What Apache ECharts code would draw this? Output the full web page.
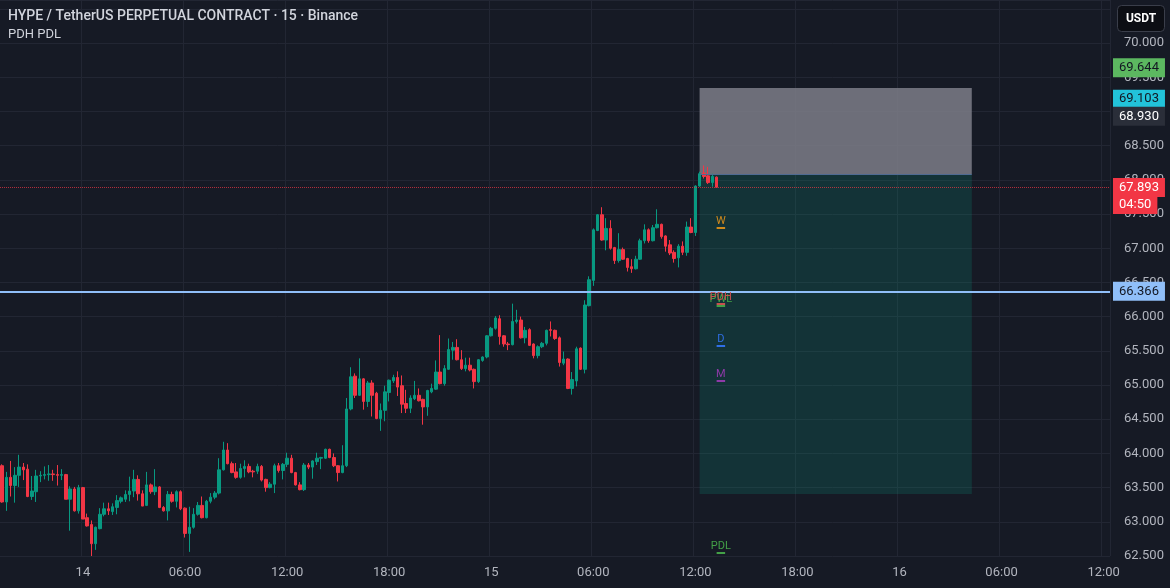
<!DOCTYPE html>
<html>
<head>
<meta charset="utf-8">
<script src="https://cdn.jsdelivr.net/npm/echarts@6/dist/echarts.min.js"></script>
<style>
  html, body { margin: 0; padding: 0; background: #161a25; }
  #chart { width: 1170px; height: 588px; }
</style>
</head>
<body>
<div id="chart"></div>
<script>
  // 15m candles as [open, close, low, high]
  var day13 = [
    [63.82, 63.29, 63.28, 63.84], [63.29, 63.65, 63.16, 63.73], [63.65, 63.53, 63.37, 63.89], [63.53, 63.68, 63.28, 63.80],
    [63.68, 63.80, 63.51, 63.98], [63.80, 63.76, 63.61, 63.86], [63.77, 63.37, 63.36, 63.84], [63.37, 63.45, 63.32, 63.67],
    [63.44, 63.67, 63.29, 63.76], [63.67, 63.68, 63.58, 63.74], [63.68, 63.69, 63.62, 63.81], [63.69, 63.70, 63.60, 63.83],
    [63.70, 63.69, 63.60, 63.76], [63.69, 63.68, 63.53, 63.83], [63.68, 63.69, 63.61, 63.77], [63.69, 63.33, 63.33, 63.70],
    [63.33, 63.48, 62.87, 63.52], [63.48, 63.16, 63.15, 63.51], [63.16, 63.50, 63.12, 63.54]
  ];
  var day14 = [
    [63.50, 63.04, 63.04, 63.51], [63.06, 62.94, 62.93, 63.12], [62.96, 62.68, 62.50, 63.02], [62.68, 62.92, 62.59, 62.93],
    [62.90, 63.11, 62.89, 63.20], [63.11, 63.19, 63.08, 63.28], [63.19, 63.16, 63.10, 63.28], [63.15, 63.22, 63.10, 63.27],
    [63.21, 63.31, 63.11, 63.39], [63.30, 63.35, 63.27, 63.37], [63.33, 63.40, 63.29, 63.46], [63.40, 63.45, 63.30, 63.66],
    [63.45, 63.62, 63.36, 63.76], [63.62, 63.41, 63.31, 63.68], [63.41, 63.23, 63.23, 63.46], [63.24, 63.54, 63.23, 63.73],
    [63.54, 63.44, 63.41, 63.56], [63.44, 63.51, 63.39, 63.77], [63.51, 63.21, 63.20, 63.52], [63.21, 63.16, 63.15, 63.23],
    [63.16, 63.40, 63.02, 63.45], [63.40, 63.30, 63.28, 63.44], [63.30, 63.44, 63.21, 63.46], [63.44, 63.19, 63.17, 63.46],
    [63.20, 62.83, 62.77, 63.21], [62.83, 62.92, 62.56, 63.22], [62.92, 63.11, 62.90, 63.20], [63.11, 63.24, 63.09, 63.29],
    [63.24, 63.06, 63.05, 63.37], [63.06, 63.30, 63.05, 63.32], [63.30, 63.36, 63.27, 63.42], [63.36, 63.42, 63.33, 63.45],
    [63.42, 63.76, 63.40, 63.93], [63.76, 64.05, 63.75, 64.17], [64.05, 63.85, 63.84, 64.15], [63.85, 63.72, 63.71, 63.88],
    [63.73, 63.65, 63.63, 63.86], [63.65, 63.78, 63.63, 63.85], [63.78, 63.81, 63.65, 63.90], [63.81, 63.73, 63.71, 63.85],
    [63.74, 63.73, 63.65, 63.76], [63.74, 63.81, 63.70, 63.85], [63.81, 63.61, 63.59, 63.83], [63.62, 63.50, 63.44, 63.63],
    [63.50, 63.55, 63.49, 63.58], [63.55, 63.82, 63.42, 63.85], [63.82, 63.75, 63.72, 63.86], [63.75, 63.84, 63.62, 63.86],
    [63.84, 63.93, 63.80, 64.01], [63.93, 63.72, 63.71, 63.98], [63.72, 63.54, 63.53, 63.73], [63.54, 63.47, 63.46, 63.58],
    [63.47, 63.83, 63.45, 63.86], [63.83, 63.80, 63.77, 63.86], [63.80, 63.89, 63.63, 63.90], [63.88, 63.93, 63.83, 64.01],
    [63.93, 63.94, 63.77, 63.95], [63.93, 64.06, 63.92, 64.07], [64.06, 63.94, 63.93, 64.07], [63.94, 63.82, 63.80, 64.00],
    [63.82, 63.72, 63.59, 63.83], [63.72, 63.82, 63.71, 64.12], [63.82, 64.65, 63.80, 64.81], [64.65, 65.12, 64.63, 65.26],
    [65.13, 64.85, 64.81, 65.17], [64.85, 65.09, 64.84, 65.39], [65.09, 64.76, 64.64, 65.10], [64.76, 65.03, 64.68, 65.06],
    [65.03, 64.85, 64.54, 65.07], [64.88, 64.51, 64.50, 64.90], [64.51, 64.63, 64.33, 64.73], [64.63, 64.90, 64.47, 64.99],
    [64.89, 65.07, 64.76, 65.08], [65.06, 65.11, 65.03, 65.15], [65.11, 64.97, 64.84, 65.20], [64.99, 64.72, 64.59, 65.14],
    [64.73, 64.66, 64.59, 64.93], [64.66, 64.81, 64.59, 64.85], [64.80, 64.85, 64.78, 65.06], [64.85, 64.77, 64.76, 64.95],
    [64.79, 64.68, 64.42, 64.80], [64.68, 64.92, 64.55, 64.93], [64.90, 64.95, 64.88, 65.02], [64.94, 65.19, 64.93, 65.36],
    [65.19, 65.02, 65.01, 65.73], [65.02, 65.24, 64.99, 65.29], [65.23, 65.52, 65.22, 65.68], [65.51, 65.55, 65.37, 65.63],
    [65.55, 65.37, 65.36, 65.67], [65.37, 65.24, 65.22, 65.51], [65.24, 65.29, 65.20, 65.40], [65.29, 65.22, 65.20, 65.40],
    [65.23, 65.05, 64.95, 65.24], [65.05, 65.37, 65.03, 65.38], [65.36, 65.41, 65.34, 65.42], [65.41, 65.72, 65.39, 65.73]
  ];
  var day15 = [
    [65.72, 65.83, 65.71, 65.85], [65.83, 65.98, 65.81, 66.01], [65.97, 65.71, 65.59, 66.02], [65.72, 65.60, 65.56, 65.73],
    [65.60, 65.59, 65.51, 65.63], [65.59, 65.93, 65.58, 66.19], [65.93, 65.95, 65.90, 66.10], [65.95, 65.69, 65.68, 66.00],
    [65.69, 65.80, 65.61, 65.85], [65.81, 65.58, 65.57, 65.83], [65.60, 65.43, 65.39, 65.61], [65.43, 65.56, 65.39, 65.58],
    [65.56, 65.61, 65.54, 65.63], [65.61, 65.80, 65.58, 65.81], [65.81, 65.80, 65.71, 65.93], [65.80, 65.68, 65.66, 65.81],
    [65.69, 65.33, 65.27, 65.71], [65.32, 65.38, 65.29, 65.49], [65.38, 64.95, 64.94, 65.39], [64.95, 65.08, 64.86, 65.19],
    [65.06, 65.53, 64.98, 65.56], [65.54, 65.23, 65.22, 65.55], [65.23, 66.17, 65.17, 66.24], [66.16, 66.54, 66.15, 66.59],
    [66.53, 67.27, 66.45, 67.29], [67.26, 67.49, 67.25, 67.50], [67.49, 67.12, 67.11, 67.60], [67.12, 67.29, 66.97, 67.44],
    [67.29, 67.00, 66.98, 67.41], [67.01, 66.82, 66.77, 67.02], [66.82, 66.98, 66.79, 67.22], [66.98, 66.84, 66.83, 67.01],
    [66.85, 66.72, 66.66, 66.86], [66.73, 66.70, 66.64, 66.84], [66.70, 66.84, 66.69, 66.89], [66.84, 67.11, 66.83, 67.14],
    [67.11, 67.27, 67.07, 67.35], [67.27, 67.11, 67.08, 67.29], [67.11, 67.30, 67.10, 67.34], [67.30, 67.35, 67.29, 67.57],
    [67.35, 67.17, 67.14, 67.36], [67.18, 67.03, 66.95, 67.19], [67.05, 66.93, 66.90, 67.12], [66.94, 66.85, 66.79, 66.97],
    [66.86, 67.03, 66.72, 67.06], [67.03, 66.94, 66.90, 67.10], [66.94, 67.31, 66.89, 67.39], [67.31, 67.23, 67.22, 67.44],
    [67.23, 67.91, 67.18, 67.92], [67.91, 68.09, 67.90, 68.12], [68.10, 68.05, 68.02, 68.21], [68.06, 67.96, 67.94, 68.19],
    [67.96, 68.05, 67.90, 68.09], [68.04, 67.893, 67.89, 68.05]
  ];

  var startDay = 13;
  var startMinute = 19 * 60 + 15;
  var slotCount = 261;

  var lastPrice = 67.893;
  var countdown = '04:50';
  var alertPrice = 66.366;
  var tagPrices = [69.644, 69.103, 68.930];

  // position tool: slot range and price bounds
  var posSlots = [164, 228];
  var posTop = 69.342;
  var posEntry = 68.085;
  var posBottom = 63.406;

  // key levels drawn as short marks with a letter
  var levelNames = ['PWL', 'PDH', 'W', 'D', 'M', 'PDL'];
  var levelPrices = [66.16, 66.194, 67.295, 65.57, 65.063, 62.554];
  var levelColors = ['#43a047', '#c9514f', '#d08a1c', '#2f6fe6', '#8e3aa8', '#43a047'];

  var up = '#089981', down = '#f23645';

  var candles = day13.concat(day14, day15);

  function pad(n) { return n < 10 ? '0' + n : '' + n; }
  var categories = [];
  for (var i = 0; i < slotCount; i++) {
    var t = startMinute + i * 15;
    var d = startDay + Math.floor(t / 1440);
    var m = t % 1440;
    categories.push(d + ' ' + pad(Math.floor(m / 60)) + ':' + pad(m % 60));
  }
  function isMajor(idx, val) {
    var hm = val.split(' ')[1];
    return hm === '00:00' || hm === '06:00' || hm === '12:00' || hm === '18:00';
  }

  function tag(price, text, bg, fg) {
    return {
      yAxis: price,
      lineStyle: { color: 'rgba(0,0,0,0)', width: 0 },
      label: {
        show: true, position: 'end', distance: 3, formatter: text,
        backgroundColor: bg, color: fg, fontSize: 13, fontFamily: 'Roboto',
        padding: [2, 6, 2, 6], lineHeight: 15
      }
    };
  }

  var marks = [
    { yAxis: lastPrice, lineStyle: { color: down, type: 'dotted', width: 1, opacity: 0.7 }, label: { show: false } },
    {
      yAxis: alertPrice, lineStyle: { color: '#90bff9', type: 'solid', width: 2 },
      label: {
        show: true, position: 'end', distance: 3, formatter: alertPrice.toFixed(3),
        backgroundColor: '#90bff9', color: '#131722', fontSize: 13, fontFamily: 'Roboto',
        padding: [2, 6, 2, 6], lineHeight: 15
      }
    },
    [
      { coord: [categories[posSlots[0]], posEntry], lineStyle: { color: '#4f6b92', width: 1, type: 'solid' }, label: { show: false } },
      { coord: [categories[posSlots[1]], posEntry] }
    ],
    tag(tagPrices[0], tagPrices[0].toFixed(3), '#5cb860', '#131722'),
    tag(tagPrices[1] + 0.075, tagPrices[1].toFixed(3), '#22c3da', '#131722'),
    tag(tagPrices[2], tagPrices[2].toFixed(3), '#2a2e39', '#ffffff'),
    tag(lastPrice, lastPrice.toFixed(3), down, '#ffffff'),
    tag(lastPrice - 0.25, countdown, down, '#ffffff')
  ];
  levelNames.forEach(function (name, k) {
    marks.push([
      {
        coord: [categories[168], levelPrices[k]],
        lineStyle: { color: levelColors[k], width: 2, type: 'solid' },
        label: {
          show: true, position: 'insideMiddleTop', distance: 1, formatter: name,
          color: levelColors[k], fontSize: 11, fontFamily: 'Roboto'
        }
      },
      { coord: [categories[170], levelPrices[k]] }
    ]);
  });

  var chart = echarts.init(document.getElementById('chart'));
  chart.setOption({
    animation: false,
    backgroundColor: '#161a25',
    grid: { left: 0, right: 60, top: 0, bottom: 32 },
    xAxis: {
      type: 'category',
      data: categories,
      boundaryGap: true,
      axisLine: { show: false },
      axisTick: { show: false },
      axisLabel: {
        interval: isMajor,
        color: '#b2b5be', fontSize: 13, fontFamily: 'Roboto', margin: 10,
        formatter: function (val) {
          var p = val.split(' ');
          return p[1] === '00:00' ? p[0] : p[1];
        }
      },
      splitLine: { show: true, interval: isMajor, lineStyle: { color: '#222633', width: 1 } }
    },
    yAxis: {
      type: 'value',
      position: 'right',
      min: 62.5,
      max: 70.63,
      interval: 0.5,
      scale: true,
      axisLine: { show: false },
      axisTick: { show: false },
      axisLabel: {
        color: '#b2b5be', fontSize: 13, fontFamily: 'Roboto', margin: 14,
        showMaxLabel: false,
        formatter: function (v) { return v > 70.1 ? '' : v.toFixed(3); }
      },
      splitLine: { lineStyle: { color: '#222633', width: 1 } }
    },
    series: [{
      type: 'candlestick',
      data: candles,
      barWidth: 3,
      itemStyle: { color: up, color0: down, borderColor: up, borderColor0: down, borderWidth: 1 },
      markArea: {
        silent: true,
        data: [
          [{ xAxis: categories[posSlots[0]], yAxis: posTop, itemStyle: { color: 'rgba(124,126,136,0.85)' } },
           { xAxis: categories[posSlots[1]], yAxis: posEntry }],
          [{ xAxis: categories[posSlots[0]], yAxis: posEntry, itemStyle: { color: 'rgba(8,153,129,0.2)' } },
           { xAxis: categories[posSlots[1]], yAxis: posBottom }]
        ]
      },
      markLine: { silent: true, symbol: ['none', 'none'], data: marks }
    }],
    graphic: [
      {
        type: 'text', left: 8, top: 9, z: 100,
        style: { text: 'HYPE / TetherUS PERPETUAL CONTRACT · 15 · Binance', fill: '#d1d4dc', font: '500 14px Roboto' }
      },
      {
        type: 'text', left: 8, top: 28, z: 100,
        style: { text: 'PDH PDL', fill: '#d1d4dc', font: '13px Roboto' }
      },
      {
        type: 'group', left: 1117, top: 5, z: 100,
        children: [
          { type: 'rect', shape: { x: 0, y: 0, width: 47, height: 26, r: 4 }, style: { fill: '#0c0e14', stroke: '#3a3e4a', lineWidth: 1 } },
          { type: 'text', x: 23.5, y: 13, style: { text: 'USDT', fill: '#ffffff', font: 'bold 12px Roboto', align: 'center', verticalAlign: 'middle' } }
        ]
      }
    ]
  });
</script>
</body>
</html>
